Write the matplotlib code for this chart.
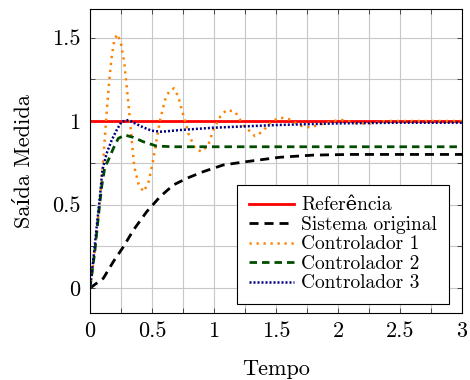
import matplotlib
matplotlib.use('Agg')
import matplotlib.pyplot as plt
from matplotlib.ticker import MultipleLocator, FuncFormatter

plt.rcParams['font.family'] = ['cmr10', 'DejaVu Serif']
plt.rcParams['axes.formatter.use_mathtext'] = True

# dados
t_ref = [0, 3]
y_ref = [1, 1]

t_orig = [0, 0.107, 0.188, 0.269, 0.35, 0.457, 0.565, 0.672, 0.78, 0.914,
          1.075, 1.263, 1.53, 1.8, 2.1, 2.4, 2.7, 3.0]
y_orig = [0, 0.058, 0.158, 0.247, 0.347, 0.457, 0.547, 0.617, 0.657, 0.697,
          0.737, 0.757, 0.783, 0.796, 0.80, 0.80, 0.80, 0.80]

t_c1 = [0, 0.027, 0.054, 0.08, 0.107, 0.134, 0.156, 0.175, 0.196, 0.22,
        0.247, 0.277, 0.296, 0.317, 0.336, 0.357, 0.39, 0.43, 0.47, 0.505,
        0.532, 0.565, 0.605, 0.64, 0.677, 0.712, 0.74, 0.766, 0.793, 0.847,
        0.9, 0.954, 0.994, 1.05, 1.10, 1.17, 1.236, 1.33, 1.39, 1.465,
        1.54, 1.607, 1.707, 1.774, 1.84, 1.96, 2.03, 2.15, 2.26, 2.39,
        2.6, 2.8, 3.0]
y_c1 = [0, 0.15, 0.33, 0.53, 0.77, 1.05, 1.25, 1.385, 1.485, 1.52,
        1.475, 1.345, 1.205, 1.048, 0.886, 0.726, 0.627, 0.577, 0.627, 0.747,
        0.866, 1.006, 1.126, 1.18, 1.196, 1.146, 1.066, 1.006, 0.926, 0.836,
        0.816, 0.856, 0.946, 1.026, 1.066, 1.056, 0.976, 0.91, 0.936, 1.0,
        1.02, 1.01, 0.97, 0.962, 0.976, 1.0, 1.006, 0.986, 0.986, 1.0,
        1.0, 1.0, 1.0]

t_c2 = [0, 0.04, 0.067, 0.094, 0.12, 0.148, 0.188, 0.228, 0.282, 0.35,
        0.43, 0.538, 0.67, 1.0, 2.0, 3.0]
y_c2 = [0, 0.227, 0.427, 0.607, 0.726, 0.766, 0.836, 0.896, 0.916, 0.902,
        0.876, 0.85, 0.846, 0.846, 0.846, 0.846]

t_c3 = [0, 0.027, 0.054, 0.08, 0.1, 0.134, 0.175, 0.215, 0.255, 0.31,
        0.363, 0.43, 0.497, 0.578, 0.726, 0.995, 1.5, 2.0, 2.5, 3.0]
y_c3 = [0, 0.17, 0.367, 0.547, 0.707, 0.806, 0.886, 0.946, 0.996, 1.006,
        0.986, 0.962, 0.942, 0.936, 0.946, 0.96, 0.976, 0.986, 0.99, 0.99]

fig = plt.figure(figsize=(4.7, 3.8), dpi=100)
ax = fig.add_axes([0.1915, 0.176, 0.7915, 0.8])

ax.plot(t_ref, y_ref, color='#ff0000', lw=2.0, label='Referência')
ax.plot(t_orig, y_orig, color='black', lw=2.0, ls=(0, (3.25, 2.15)), label='Sistema original')
ax.plot(t_c1, y_c1, color='#ff8000', lw=1.8, ls=(0, (0.9, 1.9)), label='Controlador 1')
ax.plot(t_c2, y_c2, color='#004d00', lw=2.0, ls=(0, (2.7, 1.8)), label='Controlador 2')
ax.plot(t_c3, y_c3, color='#000080', lw=1.8, ls=(0, (0.8, 0.8)), label='Controlador 3')

ax.set_xlim(0, 3)
ax.set_ylim(-0.15, 1.67)

ax.xaxis.set_major_locator(MultipleLocator(0.5))
ax.xaxis.set_minor_locator(MultipleLocator(0.25))
ax.yaxis.set_major_locator(MultipleLocator(0.5))
ax.yaxis.set_minor_locator(MultipleLocator(0.25))
fmt = FuncFormatter(lambda v, p: '%g' % v)
ax.xaxis.set_major_formatter(fmt)
ax.yaxis.set_major_formatter(fmt)

ax.grid(True, which='both', color='#c8c8c8', lw=0.8)
ax.set_axisbelow(True)
ax.tick_params(which='both', direction='in', top=True, right=True,
               length=3.6, width=0.6, color='#333333', labelsize=16)
ax.tick_params(axis='x', pad=6)
ax.tick_params(axis='y', pad=7)
for s in ax.spines.values():
    s.set_linewidth(0.8)

ax.set_xlabel('Tempo', fontsize=16, labelpad=13)
ax.set_ylabel('Saída Medida', fontsize=16, labelpad=13)

leg = ax.legend(loc='lower left', bbox_to_anchor=(0.396, 0.030), borderaxespad=0,
                fontsize=14, handlelength=2.3, handletextpad=0.4,
                labelspacing=0.08, borderpad=0.6, fancybox=False,
                edgecolor='black', framealpha=1)
leg.get_frame().set_linewidth(0.8)

fig.savefig('out.png', dpi=100)
